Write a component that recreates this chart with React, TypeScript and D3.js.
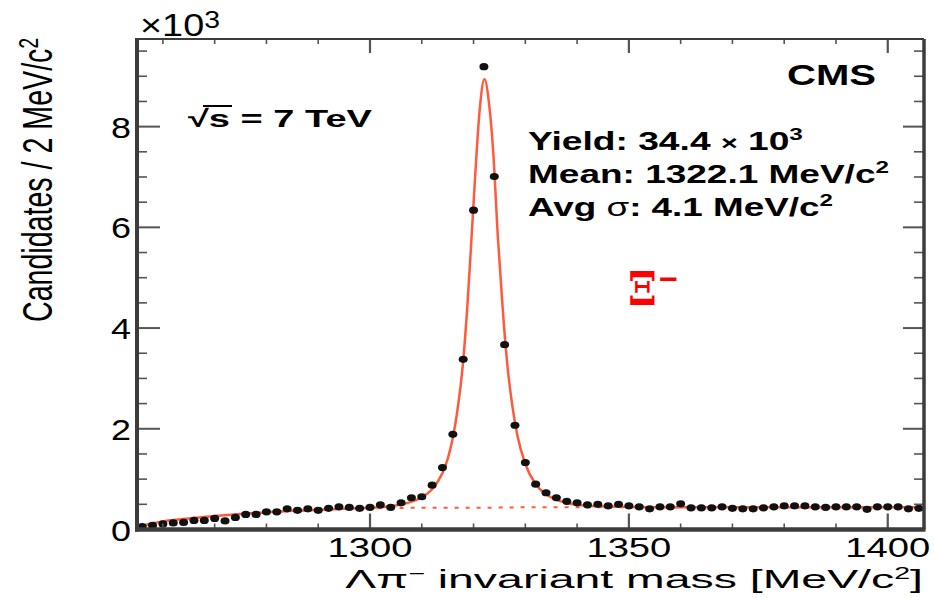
import React, { useRef, useLayoutEffect, useState } from 'react';
import * as d3 from 'd3';

// Bin centres (MeV/c^2), 2 MeV bins
const massBins = [
  1256, 1258, 1260, 1262, 1264, 1266, 1268, 1270, 1272, 1274,
  1276, 1278, 1280, 1282, 1284, 1286, 1288, 1290, 1292, 1294,
  1296, 1298, 1300, 1302, 1304, 1306, 1308, 1310, 1312, 1314,
  1316, 1318, 1320, 1322, 1324, 1326, 1328, 1330, 1332, 1334,
  1336, 1338, 1340, 1342, 1344, 1346, 1348, 1350, 1352, 1354,
  1356, 1358, 1360, 1362, 1364, 1366, 1368, 1370, 1372, 1374,
  1376, 1378, 1380, 1382, 1384, 1386, 1388, 1390, 1392, 1394,
  1396, 1398, 1400, 1402, 1404, 1406,
];
// Candidates per bin (x10^3)
const candidates = [
  0.06, 0.08, 0.11, 0.13, 0.14, 0.18, 0.18, 0.22, 0.17, 0.24,
  0.30, 0.30, 0.35, 0.35, 0.41, 0.38, 0.41, 0.38, 0.42, 0.45,
  0.44, 0.42, 0.44, 0.49, 0.44, 0.53, 0.63, 0.65, 0.88, 1.23,
  1.89, 3.38, 6.34, 9.19, 7.01, 3.67, 2.07, 1.33, 0.90, 0.73,
  0.63, 0.56, 0.53, 0.49, 0.50, 0.47, 0.50, 0.47, 0.45, 0.41,
  0.45, 0.45, 0.51, 0.43, 0.43, 0.43, 0.45, 0.42, 0.41, 0.41,
  0.43, 0.45, 0.47, 0.47, 0.47, 0.45, 0.44, 0.45, 0.45, 0.45,
  0.40, 0.45, 0.45, 0.45, 0.41, 0.42,
];
// Total fit curve
const fitMass = [
  1255, 1257, 1260, 1265, 1270, 1275, 1280, 1285, 1290, 1295,
  1300, 1304, 1307, 1310, 1312, 1314, 1315, 1316, 1317, 1318,
  1318.8, 1319.5, 1320.3, 1321.2, 1322.1, 1323.0, 1323.8, 1324.7, 1325.6, 1326.5,
  1327.5, 1328.5, 1330, 1332, 1334, 1336, 1338, 1340, 1344, 1350,
  1360, 1380, 1407,
];
const fitValue = [
  0.03, 0.10, 0.16, 0.22, 0.27, 0.31, 0.34, 0.37, 0.39, 0.41,
  0.43, 0.46, 0.52, 0.64, 0.80, 1.12, 1.40, 1.82, 2.45, 3.35,
  4.43, 5.60, 7.00, 8.35, 8.94, 8.45, 7.50, 5.80, 4.43, 3.30,
  2.45, 1.85, 1.30, 0.90, 0.70, 0.59, 0.53, 0.49, 0.46, 0.45,
  0.44, 0.44, 0.44,
];
// Background component (dashed)
const bkgMass = [1255, 1257, 1260, 1265, 1270, 1275, 1280, 1285, 1290, 1295, 1300, 1310, 1320, 1330, 1340, 1360, 1380, 1407];
const bkgValue = [0.03, 0.10, 0.16, 0.22, 0.27, 0.31, 0.34, 0.37, 0.39, 0.41, 0.42, 0.43, 0.43, 0.44, 0.44, 0.44, 0.44, 0.44];

const xMajorTicks = [1300, 1350, 1400];
const xTickLabels = ['1300', '1350', '1400'];
const yMajorTicks = [0, 2, 4, 6, 8];
const yTickLabels = ['0', '2', '4', '6', '8'];

const W = 935;
const H = 598;
const FONT = "'Liberation Sans', Arial, Helvetica, sans-serif";
const FIT_COLOR = '#ff5a3c';
const AXIS_COLOR = '#3c3c3c';

type FitProps = {
  x: number; y: number; width: number; size: number;
  anchor?: 'start' | 'middle' | 'end'; weight?: string | number; fill?: string;
  rotate?: boolean; sy?: number; family?: string; children?: React.ReactNode;
};

function FitText({ x, y, width, size, anchor = 'start', weight = 'normal', fill = '#000', rotate = false, sy = 1, family = FONT, children }: FitProps) {
  const ref = useRef<SVGTextElement>(null);
  const [sx, setSx] = useState(1);
  useLayoutEffect(() => {
    const el = ref.current;
    if (!el) return;
    const w = el.getBBox().width;
    if (w > 0) {
      const s = width / w;
      setSx((prev) => (Math.abs(prev - s) > 1e-3 ? s : prev));
    }
  });
  const t = `translate(${x},${y})${rotate ? ' rotate(-90)' : ''} scale(${sx},${sy})`;
  return (
    <text ref={ref} transform={t} textAnchor={anchor} fontSize={size} fontWeight={weight} fill={fill} fontFamily={family}>
      {children}
    </text>
  );
}

export default function App() {
  const left = 137;
  const right = 924;
  const top = 39;
  const bottom = 529.5;

  const xs = d3.scaleLinear().domain([1255, 1407]).range([left, right]);
  const ys = d3.scaleLinear().domain([0, 9.74]).range([bottom, top]);

  const lineGen = d3
    .line<[number, number]>()
    .x((d) => xs(d[0]))
    .y((d) => ys(d[1]))
    .curve(d3.curveMonotoneX);

  const fitPath = lineGen(fitMass.map((m, i) => [m, fitValue[i]] as [number, number])) || '';
  const bkgPath = lineGen(bkgMass.map((m, i) => [m, bkgValue[i]] as [number, number])) || '';

  const yMinor = d3.range(0, 9.74, 0.5).filter((v) => !yMajorTicks.includes(v));
  const xMinor = d3.range(1260, 1407, 10).filter((v) => !xMajorTicks.includes(v));

  return (
    <svg width={W} height={H} style={{ position: 'absolute', left: 0, top: 0, background: '#fff' }}>
      <defs>
        <clipPath id="plotclip">
          <rect x={left} y={top} width={right - left} height={bottom - top} />
        </clipPath>
      </defs>
      <rect x={0} y={0} width={W} height={H} fill="#fff" />

      {/* fit curves */}
      <g clipPath="url(#plotclip)">
        <path d={bkgPath} fill="none" stroke={FIT_COLOR} strokeWidth={2} strokeDasharray="4,7" />
        <path d={fitPath} fill="none" stroke={FIT_COLOR} strokeWidth={2.5} />
      </g>

      {/* data points */}
      <g>
        {massBins.map((m, i) => (
          <ellipse key={m} cx={xs(m)} cy={ys(candidates[i])} rx={4.5} ry={3.6} fill="#111" />
        ))}
      </g>

      {/* ticks */}
      <g stroke="#555">
        {yMajorTicks.map((v) => (
          <g key={'ym' + v}>
            <line x1={left} x2={left + 23} y1={ys(v)} y2={ys(v)} strokeWidth={2} />
            <line x1={right} x2={right - 21} y1={ys(v)} y2={ys(v)} strokeWidth={2} />
          </g>
        ))}
        {yMinor.map((v) => (
          <g key={'yn' + v}>
            <line x1={left} x2={left + 10} y1={ys(v)} y2={ys(v)} strokeWidth={1.6} />
            <line x1={right} x2={right - 10} y1={ys(v)} y2={ys(v)} strokeWidth={1.6} />
          </g>
        ))}
        {xMajorTicks.map((v) => (
          <g key={'xm' + v}>
            <line x1={xs(v)} x2={xs(v)} y1={bottom} y2={bottom - 16} strokeWidth={2.2} />
            <line x1={xs(v)} x2={xs(v)} y1={top} y2={top + 14} strokeWidth={2.2} />
          </g>
        ))}
        {xMinor.map((v) => (
          <g key={'xn' + v}>
            <line x1={xs(v)} x2={xs(v)} y1={bottom} y2={bottom - 6} strokeWidth={1.6} />
            <line x1={xs(v)} x2={xs(v)} y1={top} y2={top + 5} strokeWidth={1.6} />
          </g>
        ))}
      </g>

      {/* frame */}
      <g stroke={AXIS_COLOR}>
        <line x1={left} x2={right} y1={top} y2={top} strokeWidth={2} />
        <line x1={right} x2={right} y1={top} y2={bottom} strokeWidth={3.5} />
        <line x1={left} x2={left} y1={top - 1} y2={bottom + 2} strokeWidth={4} />
        <line x1={left - 2} x2={right + 1.5} y1={bottom} y2={bottom} strokeWidth={4.5} />
      </g>

      {/* tick labels */}
      {yMajorTicks.map((v, i) => (
        <FitText key={'yl' + v} x={131} y={ys(v) + 11} width={20} size={29} anchor="end">
          {yTickLabels[i]}
        </FitText>
      ))}
      {xMajorTicks.map((v, i) => (
        <FitText key={'xl' + v} x={xs(v)} y={557} width={85} size={27} anchor="middle">
          {xTickLabels[i]}
        </FitText>
      ))}

      {/* exponent */}
      <FitText x={140} y={36} width={80} size={32}>
        ×10<tspan dy={-8} fontSize={24}>3</tspan>
      </FitText>

      {/* axis titles */}
      <FitText x={923} y={588} width={578} size={26} anchor="end">
        Λπ<tspan dy={-9} fontSize={16}>−</tspan>
        <tspan dy={9}> invariant mass [MeV/c</tspan>
        <tspan dy={-9} fontSize={16}>2</tspan>
        <tspan dy={9}>]</tspan>
      </FitText>
      <FitText x={52} y={38} width={284} size={30} anchor="end" rotate sy={1.4}>
        Candidates / 2 MeV/c<tspan dy={-10} fontSize={20}>2</tspan>
      </FitText>

      {/* annotations */}
      <FitText x={188} y={127} width={184} size={24} weight="bold">
        √s = 7 TeV
      </FitText>
      <line x1={203} x2={232} y1={106} y2={106} stroke="#000" strokeWidth={2} />

      <FitText x={787} y={85} width={89} size={29} weight="bold">
        CMS
      </FitText>

      <FitText x={528} y={150} width={275} size={26} weight="bold">
        Yield: 34.4 <tspan fontSize={20}>×</tspan> 10<tspan dy={-10} fontSize={17}>3</tspan>
      </FitText>
      <FitText x={528} y={183} width={361} size={26} weight="bold">
        Mean: 1322.1 MeV/c<tspan dy={-10} fontSize={17}>2</tspan>
      </FitText>
      <FitText x={528} y={216} width={305} size={26} weight="bold">
        Avg <tspan fontWeight="normal">σ</tspan>: 4.1 MeV/c<tspan dy={-10} fontSize={17}>2</tspan>
      </FitText>

      <FitText x={628} y={305} width={29} size={46} weight="bold" fill="#ff0000" family="'DejaVu Serif', serif">
        Ξ
      </FitText>
      <FitText x={659} y={289} width={19} size={30} weight="bold" fill="#ff0000">
        −
      </FitText>
    </svg>
  );
}
